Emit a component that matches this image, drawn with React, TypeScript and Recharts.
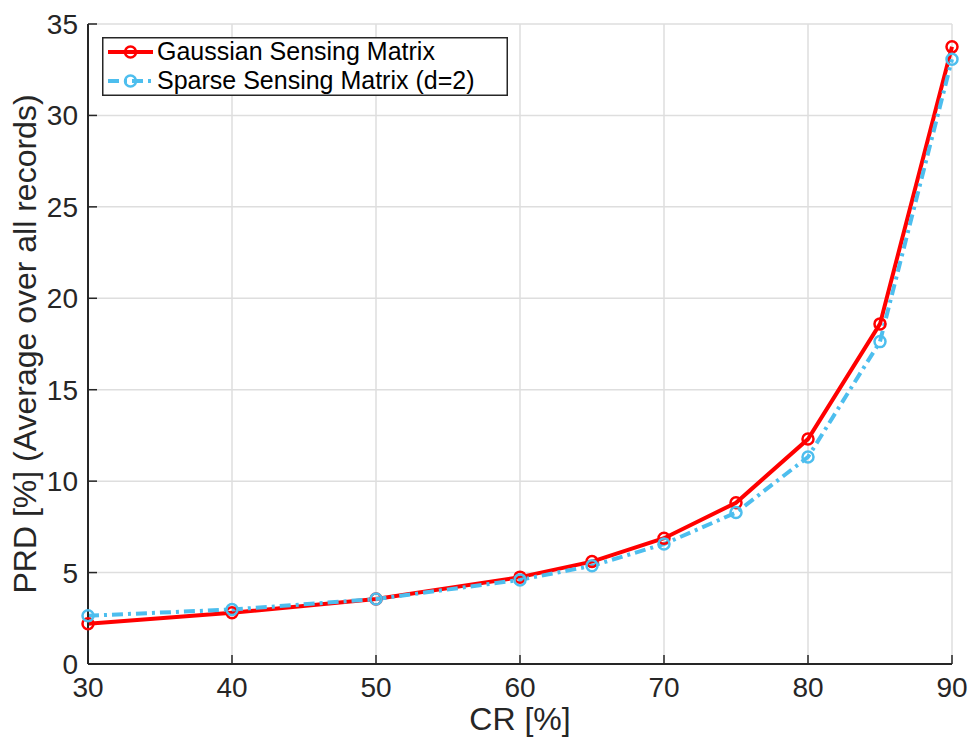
import { CartesianGrid, Legend, Line, LineChart, XAxis, YAxis } from "recharts";

const FONT = "'Liberation Sans', Arial, Helvetica, sans-serif";
const AXIS = "#262626";
const RED = "#ff0000";
const BLUE = "#4dbeee";
const BLUE_DASH = "11 5 3 5";

const CR = [30, 40, 50, 60, 65, 70, 75, 80, 85, 90];
const GAUSSIAN = [2.2, 2.8, 3.55, 4.75, 5.6, 6.88, 8.82, 12.3, 18.6, 33.75];
const SPARSE = [2.64, 2.98, 3.55, 4.6, 5.37, 6.56, 8.28, 11.32, 17.63, 33.07];

const X_TICKS = [30, 40, 50, 60, 70, 80, 90];
const Y_TICKS = [0, 5, 10, 15, 20, 25, 30, 35];

const SERIES = [
  { key: "gaussian", name: "Gaussian Sensing Matrix", color: RED, dash: undefined },
  { key: "sparse", name: "Sparse Sensing Matrix (d=2)", color: BLUE, dash: BLUE_DASH },
];

const data = CR.map((cr, i) => ({ cr, gaussian: GAUSSIAN[i], sparse: SPARSE[i] }));

// MATLAB style: ticks point into the plot box
function BottomTick({ x, y, payload }: any) {
  return (
    <g>
      <line x1={x} x2={x} y1={y} y2={y - 9} stroke={AXIS} strokeWidth={1.5} />
      <text x={x} y={y + 33} textAnchor="middle" fontSize={28} fontFamily={FONT} fill={AXIS}>
        {payload.value}
      </text>
    </g>
  );
}

function TopTick({ x, y }: any) {
  return <line x1={x} x2={x} y1={y} y2={y + 9} stroke={AXIS} strokeWidth={1.5} />;
}

function LeftTick({ x, y, payload }: any) {
  return (
    <g>
      <line x1={x} x2={x + 9} y1={y} y2={y} stroke={AXIS} strokeWidth={1.5} />
      <text x={x - 10} y={y + 10} textAnchor="end" fontSize={28} fontFamily={FONT} fill={AXIS}>
        {payload.value}
      </text>
    </g>
  );
}

function RightTick({ x, y }: any) {
  return <line x1={x} x2={x - 9} y1={y} y2={y} stroke={AXIS} strokeWidth={1.5} />;
}

function YLabel({ viewBox }: any) {
  const cx = viewBox.x + 36;
  const cy = viewBox.y + viewBox.height / 2;
  return (
    <text
      x={cx}
      y={cy}
      transform={`rotate(-90, ${cx}, ${cy})`}
      textAnchor="middle"
      fontSize={32}
      fontFamily={FONT}
      fill={AXIS}
    >
      PRD [%] (Average over all records)
    </text>
  );
}

function LegendBox() {
  const rows = [15, 44];
  return (
    <svg width={406} height={59} style={{ display: "block" }}>
      <rect x={0.75} y={0.75} width={404.5} height={57.5} fill="#fff" stroke={AXIS} strokeWidth={1.5} />
      {SERIES.map((s, i) => (
        <g key={s.key}>
          <line
            x1={6}
            x2={51}
            y1={rows[i]}
            y2={rows[i]}
            stroke={s.color}
            strokeWidth={4}
            strokeDasharray={s.dash ? "11 5 3 5" : undefined}
          />
          <circle cx={28.5} cy={rows[i]} r={5.5} fill="none" stroke={s.color} strokeWidth={2.5} />
          <text x={55} y={rows[i] + 8} fontSize={25} fontFamily={FONT} fill="#000">
            {s.name}
          </text>
        </g>
      ))}
    </svg>
  );
}

export default function App() {
  return (
    <div style={{ position: "absolute", left: 0, top: 0, background: "#fff" }}>
      <LineChart
        width={969}
        height={738}
        data={data}
        margin={{ top: 24, right: 17, bottom: 0, left: 0 }}
      >
        <CartesianGrid stroke="#dedede" strokeWidth={1.5} />
        <XAxis
          dataKey="cr"
          type="number"
          domain={[30, 90]}
          ticks={X_TICKS}
          height={74}
          tickSize={0}
          tickMargin={0}
          tickLine={false}
          tick={<BottomTick />}
          axisLine={{ stroke: AXIS, strokeWidth: 2 }}
          label={{
            value: "CR [%]",
            position: "insideBottom",
            offset: 8,
            fontSize: 32,
            fontFamily: FONT,
            fill: AXIS,
          }}
        />
        <XAxis
          xAxisId="top"
          dataKey="cr"
          orientation="top"
          type="number"
          domain={[30, 90]}
          ticks={X_TICKS}
          height={0}
          tickSize={0}
          tickMargin={0}
          tickLine={false}
          tick={<TopTick />}
          axisLine={{ stroke: AXIS, strokeWidth: 2 }}
        />
        <YAxis
          type="number"
          domain={[0, 35]}
          ticks={Y_TICKS}
          width={88}
          tickSize={0}
          tickMargin={0}
          tickLine={false}
          tick={<LeftTick />}
          axisLine={{ stroke: AXIS, strokeWidth: 2 }}
          label={{ content: <YLabel /> }}
        />
        <YAxis
          yAxisId="right"
          orientation="right"
          type="number"
          domain={[0, 35]}
          ticks={Y_TICKS}
          width={0}
          tickSize={0}
          tickMargin={0}
          tickLine={false}
          tick={<RightTick />}
          axisLine={{ stroke: AXIS, strokeWidth: 2 }}
        />
        <Legend
          layout="horizontal"
          align="center"
          verticalAlign="middle"
          content={<LegendBox />}
          wrapperStyle={{ left: 102, top: 37, width: 406, height: 59 }}
        />
        {SERIES.map((s) => (
          <Line
            key={s.key}
            dataKey={s.key}
            name={s.name}
            type="linear"
            stroke={s.color}
            strokeWidth={4}
            strokeDasharray={s.dash}
            dot={{ r: 5.5, fill: "none", stroke: s.color, strokeWidth: 2.5, strokeDasharray: "none" }}
            activeDot={false}
            isAnimationActive={false}
          />
        ))}
      </LineChart>
    </div>
  );
}
